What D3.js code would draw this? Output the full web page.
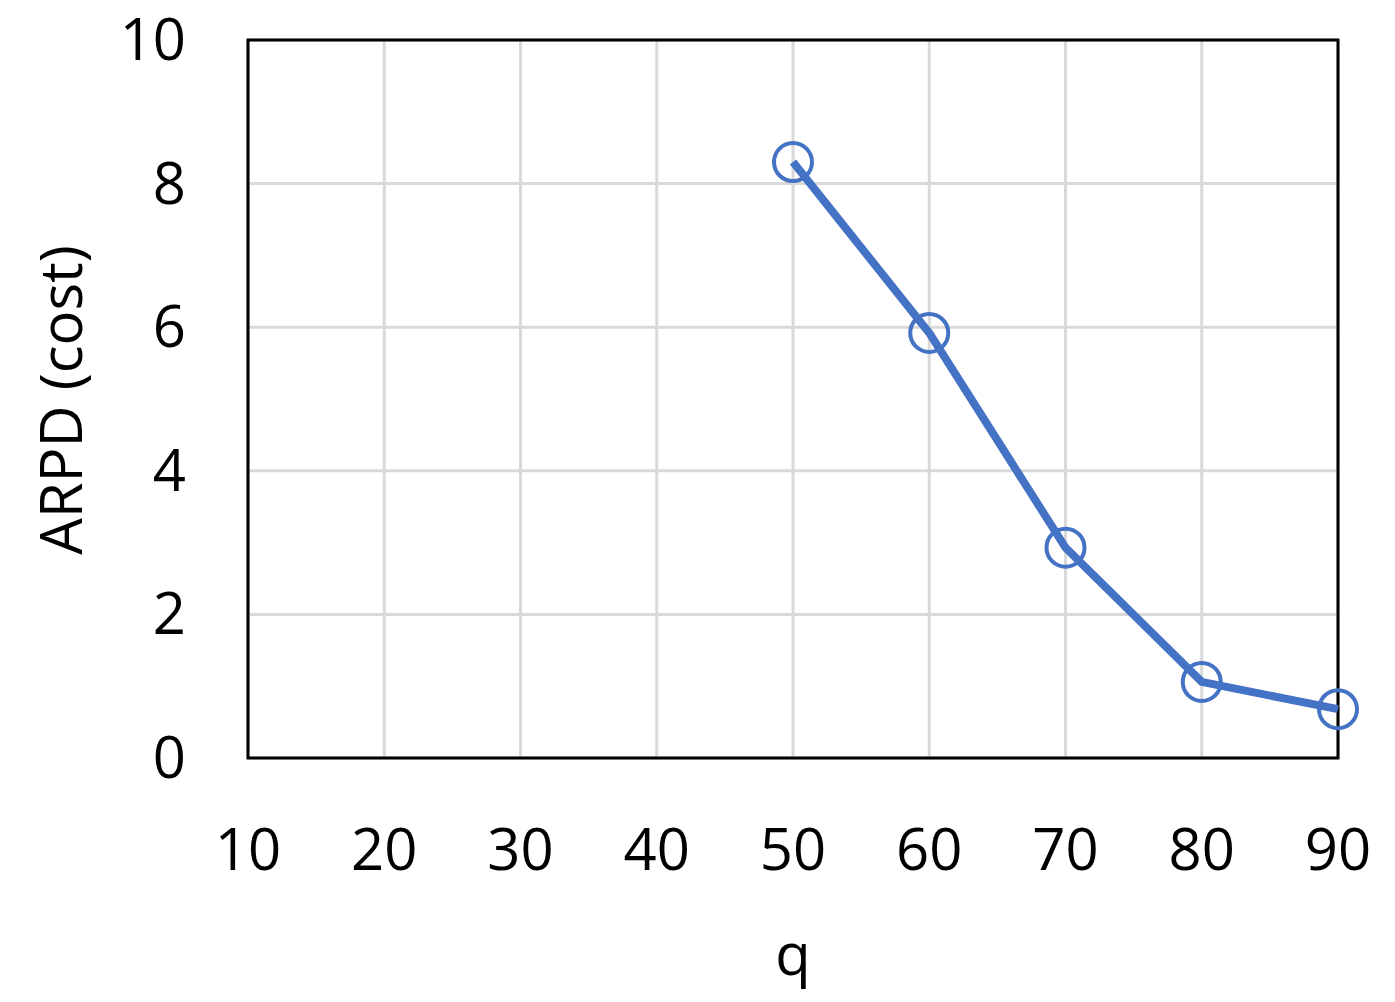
<!DOCTYPE html>
<html><head><meta charset="utf-8">
<script src="https://cdn.jsdelivr.net/npm/d3@7"></script>
<style>body{margin:0;background:#fff}</style></head>
<body><svg id="c" width="1395" height="1002"></svg>
<script>
const qValues=[50,60,70,80,90];
const arpdValues=[8.3,5.92,2.93,1.06,0.68];
const xTicks=[10,20,30,40,50,60,70,80,90];
const yTicks=[0,2,4,6,8,10];
const svg=d3.select("#c");
const L=248,R=1338,T=40,B=758;
const x=d3.scaleLinear().domain([10,90]).range([L,R]);
const y=d3.scaleLinear().domain([0,10]).range([B,T]);
const font="'Open Sans', sans-serif";
svg.append("g").selectAll("line").data(xTicks).join("line")
 .attr("x1",d=>x(d)).attr("x2",d=>x(d)).attr("y1",T).attr("y2",B).attr("stroke","#d9d9d9").attr("stroke-width",3);
svg.append("g").selectAll("line").data(yTicks).join("line")
 .attr("y1",d=>y(d)).attr("y2",d=>y(d)).attr("x1",L).attr("x2",R).attr("stroke","#d9d9d9").attr("stroke-width",3);
svg.append("rect").attr("x",L).attr("y",T).attr("width",R-L).attr("height",B-T).attr("fill","none").attr("stroke","#000").attr("stroke-width",3);
svg.append("g").selectAll("text").data(xTicks).join("text")
 .attr("x",d=>x(d)).attr("y",870).attr("text-anchor","middle").attr("font-family",font).attr("font-size",58).text(d=>d);
svg.append("g").selectAll("text").data(yTicks).join("text")
 .attr("x",186).attr("y",d=>y(d)+20).attr("text-anchor","end").attr("font-family",font).attr("font-size",58).text(d=>d);
svg.append("text").attr("x",793).attr("y",975).attr("text-anchor","middle").attr("font-family",font).attr("font-size",58).text("q");
svg.append("text").attr("transform","translate(82,400) rotate(-90)").attr("text-anchor","middle").attr("font-family",font).attr("font-size",58).text("ARPD (cost)");
const data=qValues.map((q,i)=>[q,arpdValues[i]]);
svg.append("path").datum(data).attr("d",d3.line().x(d=>x(d[0])).y(d=>y(d[1])))
 .attr("fill","none").attr("stroke","#4472c4").attr("stroke-width",8).attr("stroke-linejoin","round");
svg.append("g").selectAll("circle").data(data).join("circle")
 .attr("cx",d=>x(d[0])).attr("cy",d=>y(d[1])).attr("r",19).attr("fill","none").attr("stroke","#4472c4").attr("stroke-width",4);
</script></body></html>
